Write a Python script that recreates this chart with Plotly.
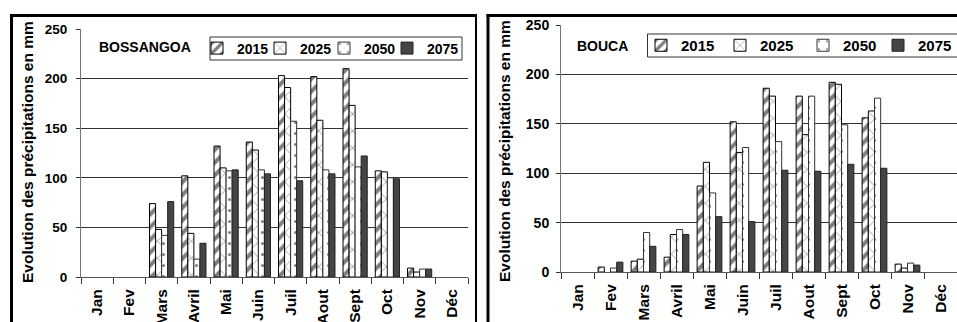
import plotly.graph_objects as go

W, H = 957, 322

months = ["Jan", "Fev", "Mars", "Avril", "Mai", "Juin", "Juil", "Aout", "Sept", "Oct", "Nov", "Déc"]
years = ["2015", "2025", "2050", "2075"]

bossangoa_2015 = [0, 0, 74, 102, 132, 136, 203, 202, 210, 107, 9, 0]
bossangoa_2025 = [0, 0, 48, 44, 110, 128, 191, 158, 173, 106, 5, 0]
bossangoa_2050 = [0, 0, 42, 18, 107, 108, 157, 108, 111, 100, 8, 0]
bossangoa_2075 = [0, 0, 76, 34, 108, 104, 97, 104, 122, 99, 8, 0]

bouca_2015 = [0, 5, 11, 15, 87, 152, 186, 178, 192, 156, 8, 0]
bouca_2025 = [0, 0, 13, 38, 111, 121, 178, 139, 190, 163, 4, 0]
bouca_2050 = [0, 4, 40, 43, 80, 126, 132, 178, 149, 176, 9, 0]
bouca_2075 = [0, 10, 26, 38, 56, 51, 103, 102, 109, 105, 7, 0]

y_title = "Evolution des précipitations en mm"
FONT = "Liberation Sans, Arial, sans-serif"


def px(x):
    return x / W


def py(y):
    return 1 - y / H


styles = {
    "2015": dict(color="white", line=dict(color="black", width=1),
                 pattern=dict(shape="/", fgcolor="black", bgcolor="white", size=9, solidity=0.45)),
    "2025": dict(color="white", line=dict(color="black", width=1),
                 pattern=dict(shape="x", fgcolor="black", bgcolor="white", size=12, solidity=0.12)),
    "2050": dict(color="white", line=dict(color="#333333", width=1),
                 pattern=dict(shape=".", fgcolor="black", bgcolor="white", size=11, solidity=0.06)),
    "2075": dict(color="#454545", line=dict(color="#222222", width=1)),
}

# one legend per entry so that each entry sits where the reference puts it
left_legend_x = [197, 260, 324, 387]
right_legend_x = [641, 720, 803, 878]
left_legend_names = ["legend", "legend2", "legend3", "legend4"]
right_legend_names = ["legend5", "legend6", "legend7", "legend8"]

fig = go.Figure()

left_series = [bossangoa_2015, bossangoa_2025, bossangoa_2050, bossangoa_2075]
right_series = [bouca_2015, bouca_2025, bouca_2050, bouca_2075]


def nz(vals):
    return [v if v else None for v in vals]


for yr, vals, lg in zip(years, left_series, left_legend_names):
    fig.add_trace(go.Bar(x=months, y=nz(vals), name=yr, marker=styles[yr],
                         xaxis="x", yaxis="y", legend=lg))
for yr, vals, lg in zip(years, right_series, right_legend_names):
    fig.add_trace(go.Bar(x=months, y=nz(vals), name=yr, marker=styles[yr],
                         xaxis="x2", yaxis="y2", legend=lg))

xcommon = dict(type="category", showline=True, linecolor="#555555", linewidth=1,
               ticks="outside", tickson="boundaries", ticklen=6, tickcolor="#333333",
               tickangle=-90, showgrid=False, automargin=False, fixedrange=True,
               ticklabelstandoff=5,
               tickfont=dict(family=FONT, size=15.5, color="black", weight="bold"))
ycommon = dict(range=[0, 250], dtick=50, showline=True, linecolor="#777777", linewidth=1,
               ticks="outside", ticklen=4, tickcolor="#333333", showgrid=True,
               gridcolor="#333333", gridwidth=1, automargin=False, fixedrange=True,
               zeroline=False)

legend_layout = {}
for lg, x in zip(left_legend_names, left_legend_x):
    legend_layout[lg] = dict(x=px(x), y=py(48.5), xanchor="left", yanchor="middle",
                             orientation="h", borderwidth=0, bgcolor="rgba(0,0,0,0)",
                             itemwidth=30,
                             font=dict(family=FONT, size=14, color="black", weight="bold"),
                             itemclick=False, itemdoubleclick=False)
for lg, x in zip(right_legend_names, right_legend_x):
    legend_layout[lg] = dict(x=px(x), y=py(45.5), xanchor="left", yanchor="middle",
                             orientation="h", borderwidth=0, bgcolor="rgba(0,0,0,0)",
                             itemwidth=30,
                             font=dict(family=FONT, size=15, color="black", weight="bold"),
                             itemclick=False, itemdoubleclick=False)

fig.update_layout(
    width=W, height=H,
    margin=dict(l=0, r=0, t=0, b=0),
    paper_bgcolor="white", plot_bgcolor="white",
    barmode="group",
    xaxis=dict(domain=[px(81), px(468)], anchor="y", **xcommon),
    yaxis=dict(domain=[py(277), py(29)], anchor="x", ticklabelstandoff=6,
               tickfont=dict(family=FONT, size=13.5, color="black", weight="bold"), **ycommon),
    xaxis2=dict(domain=[px(561), 1.0], anchor="y2", **xcommon),
    yaxis2=dict(domain=[py(272), py(25)], anchor="x2", ticklabelstandoff=4,
                tickfont=dict(family=FONT, size=14, color="black", weight="bold"), **ycommon),
    bargap=0.25, bargroupgap=0,
    showlegend=True,
    **legend_layout,
)

annotations = [
    dict(x=px(97), y=py(47), xref="paper", yref="paper", xanchor="left", yanchor="middle",
         text="BOSSANGOA", showarrow=False,
         font=dict(family=FONT, size=14, color="black", weight="bold")),
    dict(x=px(575), y=py(46), xref="paper", yref="paper", xanchor="left", yanchor="middle",
         text="BOUCA", showarrow=False,
         font=dict(family=FONT, size=14, color="black", weight="bold")),
    dict(x=px(27), y=py(152), xref="paper", yref="paper", xanchor="center", yanchor="middle",
         text=y_title, textangle=-90, showarrow=False,
         font=dict(family=FONT, size=15.5, color="black", weight="bold")),
    dict(x=px(504), y=py(151), xref="paper", yref="paper", xanchor="center", yanchor="middle",
         text=y_title, textangle=-90, showarrow=False,
         font=dict(family=FONT, size=15.5, color="black", weight="bold")),
]
fig.update_layout(annotations=annotations)

shapes = [
    # legend boxes
    dict(type="rect", xref="paper", yref="paper", x0=px(210), x1=px(462), y0=py(60), y1=py(37),
         line=dict(color="#333333", width=1), fillcolor="white", layer="above"),
    dict(type="rect", xref="paper", yref="paper", x0=px(647.5), x1=px(975), y0=py(57), y1=py(34),
         line=dict(color="#333333", width=1), fillcolor="white", layer="above"),
    # left panel frame
    dict(type="line", xref="paper", yref="paper", x0=px(11.5), x1=px(11.5), y0=py(14), y1=py(330),
         line=dict(color="black", width=3)),
    dict(type="line", xref="paper", yref="paper", x0=px(10), x1=px(477), y0=py(15.5), y1=py(15.5),
         line=dict(color="black", width=3)),
    dict(type="line", xref="paper", yref="paper", x0=px(476), x1=px(476), y0=py(14), y1=py(330),
         line=dict(color="black", width=2)),
    # right panel frame
    dict(type="line", xref="paper", yref="paper", x0=px(488), x1=px(488), y0=py(14), y1=py(330),
         line=dict(color="black", width=3)),
    dict(type="line", xref="paper", yref="paper", x0=px(486.5), x1=px(960), y0=py(15.5), y1=py(15.5),
         line=dict(color="black", width=3)),
]
fig.update_layout(shapes=shapes)

fig.write_html("out.html", config={"displayModeBar": False},
               post_script="document.body.style.margin='0';document.body.style.overflow='hidden';")
